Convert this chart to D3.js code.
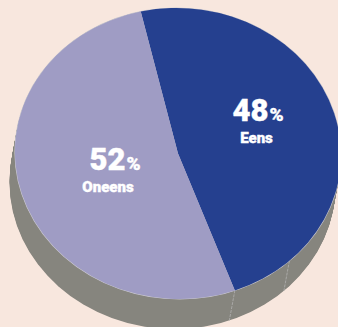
<!DOCTYPE html>
<html>
<head>
<meta charset="utf-8">
<script src="https://cdn.jsdelivr.net/npm/d3@7"></script>
<style>
  html, body { margin: 0; padding: 0; background: #f8e7de; }
  svg { display: block; }
  text { font-family: Roboto, sans-serif; fill: #fff; font-weight: 900; stroke: #fff; stroke-width: 0.4px; }
</style>
</head>
<body>
<script>
// Survey split shown as a tilted pie with a solid grey side wall
const categories = ["Eens", "Oneens"];
const shares = [48, 52];
const colors = ["#25408f", "#9f9cc4"];
const wallColor = "#86857e";
const seamColor = "#a9a8a6";
const seamDegrees = [137.5];

const width = 338, height = 327;
const cx = 178, cy = 153.5, rx = 163, ry = 145.5, skew = 0.012;
const depthX = -5.5, depthY = 30;
const startDeg = -12.6;

const svg = d3.select("body").append("svg")
  .attr("width", width).attr("height", height);

svg.append("rect").attr("width", width).attr("height", height).attr("fill", "#f8e7de");

const pie = d3.pie().sort(null)
  .startAngle(startDeg * Math.PI / 180)
  .endAngle((startDeg + 360) * Math.PI / 180);
const slices = pie(shares);

// Flattens a circle of radius 100 into the slightly leaning top ellipse
const faceMatrix = `matrix(${rx / 100},0,${skew * ry / 100},${ry / 100},${cx},${cy})`;

// Maps a clockwise-from-top angle onto the leaning rim
const rim = a => {
  const y = -ry * Math.cos(a);
  return [cx + rx * Math.sin(a) + skew * y, cy + y];
};

const disc = d3.arc().innerRadius(0).outerRadius(100).startAngle(0).endAngle(2 * Math.PI)();

// Side wall: the rim swept along the extrusion vector
const wall = svg.append("g").attr("fill", wallColor);
wall.selectAll("path").data(d3.range(0, 1.0001, 1 / 40)).join("path")
  .attr("d", disc)
  .attr("transform", t => `translate(${depthX * t},${depthY * t}) ${faceMatrix}`);

// Seams on the wall: one at the slice boundary, the rest decorative
const seamAngles = [slices[0].endAngle].concat(seamDegrees.map(d => d * Math.PI / 180));
svg.append("g").selectAll("line").data(seamAngles).join("line")
  .attr("x1", a => rim(a)[0])
  .attr("y1", a => rim(a)[1])
  .attr("x2", a => rim(a)[0] + depthX)
  .attr("y2", a => rim(a)[1] + depthY)
  .attr("stroke", seamColor)
  .attr("stroke-width", 1)
  .attr("stroke-dasharray", "3 1");

// Top face with a thin pale rim
const arc = d3.arc().innerRadius(0).outerRadius(100);
const face = svg.append("g").attr("transform", faceMatrix);
face.append("path").attr("d", disc)
  .attr("fill", "#c9c7cf")
  .attr("stroke", "#c9c7cf")
  .attr("stroke-width", 0.7);
face.selectAll("path.slice").data(slices).join("path")
  .attr("class", "slice")
  .attr("d", arc)
  .attr("fill", (d, i) => colors[i]);

// Percentage and category labels
const labelPos = [[258, 121, 256.5, 143], [115, 170, 108, 192]];
categories.forEach((name, i) => {
  const [px, py, nx, ny] = labelPos[i];
  const pct = svg.append("text")
    .attr("x", px).attr("y", py)
    .attr("text-anchor", "middle")
    .attr("font-size", 31);
  pct.append("tspan").text(shares[i]);
  pct.append("tspan").attr("font-size", 19).attr("dx", 1).text("%");
  svg.append("text")
    .attr("x", nx).attr("y", ny)
    .attr("text-anchor", "middle")
    .attr("font-size", 15)
    .text(name);
});
</script>
</body>
</html>
